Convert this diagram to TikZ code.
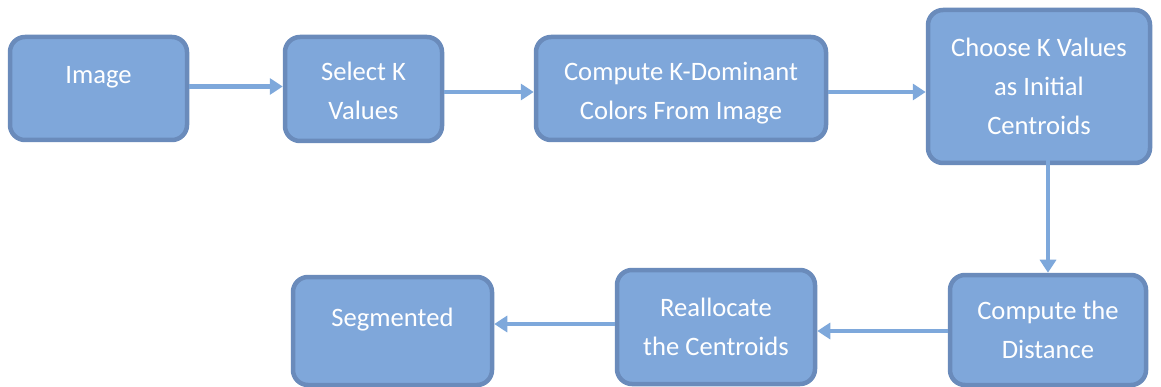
\documentclass[tikz,border=0pt]{standalone}
\usepackage{fontspec}
\setmainfont{Carlito}
\usetikzlibrary{arrows.meta}
\definecolor{boxfill}{HTML}{7FA7DA}
\definecolor{boxline}{HTML}{6A8BBB}
\definecolor{arrowc}{HTML}{7EA8DB}
\tikzset{
  stepbox/.style={draw=boxline, fill=boxfill, line width=4.5pt, rounded corners=15pt,
    text=white, align=center, inner sep=0pt,
    font=\fontsize{26.6}{39}\selectfont},
  flow/.style={draw=arrowc, line width=4.5pt, -{Triangle[width=16pt,length=13pt]}}
}
\begin{document}
\begin{tikzpicture}[x=1pt,y=-1pt]
\useasboundingbox (0,0) rectangle (1161,387);
\node[stepbox, minimum width=177pt, minimum height=103pt] (img) at (98.5,88.5) {\raisebox{28pt}{Image}};
\node[stepbox, minimum width=157pt, minimum height=104pt] (sel) at (363.5,89) {\raisebox{0pt}[\dimexpr\height+3pt\relax]{Select K}\\Values};
\node[stepbox, minimum width=290pt, minimum height=103pt] (dom) at (681,88.5) {\raisebox{0pt}[\dimexpr\height+9pt\relax]{Compute K-Dominant}\\Colors From Image};
\node[stepbox, minimum width=222pt, minimum height=153pt] (cho) at (1039,86.5) {Choose K Values\\as Initial\\Centroids};
\node[stepbox, minimum width=196pt, minimum height=110pt] (dis) at (1048,330) {Compute the\\Distance};
\node[stepbox, minimum width=198pt, minimum height=114pt] (rea) at (716,327) {Reallocate\\the Centroids};
\node[stepbox, minimum width=199pt, minimum height=108pt] (seg) at (392.5,331) {\raisebox{28pt}{Segmented}};
\draw[flow] ([yshift=2pt]img.east) -- ([yshift=2pt]img.east -| sel.west);
\draw[flow] ([yshift=-3pt]sel.east) -- ([yshift=-3pt]sel.east -| dom.west);
\draw[flow] ([yshift=-3.5pt]dom.east) -- ([yshift=-3.5pt]dom.east -| cho.west);
\draw[flow] ([yshift=5pt]cho.south -| dis.north) -- (dis.north);
\draw[flow] ([yshift=-1pt]dis.west) -- ([yshift=-1pt]dis.west -| rea.east);
\draw[flow] ([yshift=3pt]rea.west) -- ([yshift=3pt]rea.west -| seg.east);
\end{tikzpicture}
\end{document}
